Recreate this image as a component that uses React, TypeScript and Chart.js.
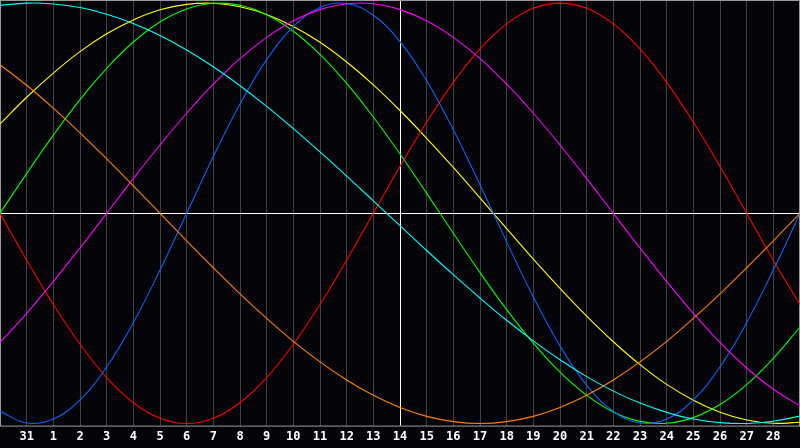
import { useEffect, useRef } from 'react';
import Chart from 'chart.js/auto';

// days shown along the bottom (first and last slot have no label)
const dayLabels = ['', '31', '1', '2', '3', '4', '5', '6', '7', '8', '9', '10', '11', '12', '13', '14',
  '15', '16', '17', '18', '19', '20', '21', '22', '23', '24', '25', '26', '27', '28', ''];

const todayIndex = 15; // "14"

const physical = [-94.2, -99.8, -97.9, -88.8, -73.1, -52.0, -27.0, 0, 27.0, 52.0, 73.1, 88.8, 97.9, 99.8, 94.2, 81.7,
  63.1, 39.8, 13.6, -13.6, -39.8, -63.1, -81.7, -94.2, -99.8, -97.9, -88.8, -73.1, -52.0, -27.0, 0];
const emotional = [0, -22.3, -43.4, -62.3, -78.2, -90.1, -97.5, -100, -97.5, -90.1, -78.2, -62.3, -43.4, -22.3, 0, 22.3,
  43.4, 62.3, 78.2, 90.1, 97.5, 100, 97.5, 90.1, 78.2, 62.3, 43.4, 22.3, 0, -22.3, -43.4];
const intellectual = [0, 18.9, 37.2, 54.1, 69.0, 81.5, 91.0, 97.2, 99.9, 99.0, 94.5, 86.6, 75.6, 61.8, 45.8, 28.2,
  9.5, -9.5, -28.2, -45.8, -61.8, -75.6, -86.6, -94.5, -99.0, -99.9, -97.2, -91.0, -81.5, -69.0, -54.1];
const intuitive = [-61.4, -47.6, -32.5, -16.5, 0, 16.5, 32.5, 47.6, 61.4, 73.6, 83.7, 91.6, 96.9, 99.7, 99.7, 96.9,
  91.6, 83.7, 73.6, 61.4, 47.6, 32.5, 16.5, 0, -16.5, -32.5, -47.6, -61.4, -73.6, -83.7, -91.6];
const aesthetic = [42.5, 55.2, 66.7, 76.9, 85.4, 92.0, 96.8, 99.4, 99.9, 98.3, 94.6, 88.9, 81.4, 72.0, 61.1, 48.9,
  35.7, 21.8, 7.3, -7.3, -21.8, -35.7, -48.9, -61.1, -72.0, -81.4, -88.9, -94.6, -98.3, -99.9, -99.4];
const awareness = [70.7, 60.9, 50, 38.3, 25.9, 13.1, 0, -13.1, -25.9, -38.3, -50, -60.9, -70.7, -79.3, -86.6, -92.4,
  -96.6, -99.1, -100, -99.1, -96.6, -92.4, -86.6, -79.3, -70.7, -60.9, -50, -38.3, -25.9, -13.1, 0];
const spiritual = [98.9, 100, 99.6, 97.9, 94.7, 90.3, 84.6, 77.7, 69.7, 60.7, 50.9, 40.3, 29.2, 17.7, 5.9, -5.9,
  -17.7, -29.2, -40.3, -50.9, -60.7, -69.7, -77.7, -84.6, -90.3, -94.7, -97.9, -99.6, -100, -98.9, -96.5];

const framePlugin = {
  id: 'frame',
  beforeDatasetsDraw(chart: any) {
    const { ctx, chartArea, scales } = chart;
    ctx.save();
    ctx.lineWidth = 1;
    ctx.strokeStyle = '#ffffff';
    const y0 = Math.round(scales.y.getPixelForValue(0)) + 0.5;
    ctx.beginPath();
    ctx.moveTo(chartArea.left, y0);
    ctx.lineTo(chartArea.right, y0);
    const xt = Math.round(scales.x.getPixelForValue(todayIndex)) + 0.5;
    ctx.moveTo(xt, chartArea.top);
    ctx.lineTo(xt, chartArea.bottom);
    ctx.stroke();
    ctx.strokeStyle = '#9a9a9a';
    ctx.strokeRect(chartArea.left + 0.5, chartArea.top - 0.5, chartArea.right - chartArea.left - 1, chartArea.bottom - chartArea.top + 1);
    ctx.restore();
  },
};

export default function App() {
  const chartRef = useRef<HTMLCanvasElement>(null);
  const chartInstance = useRef<Chart | null>(null);

  useEffect(() => {
    if (!chartRef.current) return;
    if (chartInstance.current) chartInstance.current.destroy();

    const line = (data: number[], color: string) => ({
      data,
      borderColor: color,
      borderWidth: 1.1,
      pointRadius: 0,
      pointHoverRadius: 0,
      tension: 0.4,
      fill: false,
    });

    chartInstance.current = new Chart(chartRef.current, {
      type: 'line',
      data: {
        labels: dayLabels,
        datasets: [
          line(awareness, '#ff8000'),
          line(spiritual, '#00ffff'),
          line(intuitive, '#ff00ff'),
          line(physical, '#0a64ff'),
          line(emotional, '#ff0000'),
          line(intellectual, '#00ff00'),
          line(aesthetic, '#ffff00'),
        ],
      },
      options: {
        responsive: false,
        animation: false,
        devicePixelRatio: 1,
        layout: { autoPadding: false, padding: { top: 1, left: 0, right: 0, bottom: 0 } },
        plugins: {
          legend: { display: false },
          tooltip: { enabled: false },
        },
        scales: {
          x: {
            grid: { color: '#424242', lineWidth: 1, drawTicks: false },
            border: { display: false },
            ticks: {
              color: '#ffffff',
              autoSkip: false,
              maxRotation: 0,
              padding: 4,
              font: { family: '"DejaVu Sans Mono"', size: 12, weight: 'bold' },
            },
            afterFit(scale: any) {
              // no side padding for the first/last labels
              scale.paddingLeft = 0;
              scale.paddingRight = 0;
            },
          },
          y: {
            display: false,
            min: -101,
            max: 101,
          },
        },
      },
      plugins: [framePlugin],
    });

    return () => {
      if (chartInstance.current) {
        chartInstance.current.destroy();
        chartInstance.current = null;
      }
    };
  }, []);

  return (
    <div style={{ position: 'fixed', left: 0, top: 0, width: 800, height: 448, background: '#050408' }}>
      <canvas ref={chartRef} width={800} height={448}></canvas>
    </div>
  );
}
